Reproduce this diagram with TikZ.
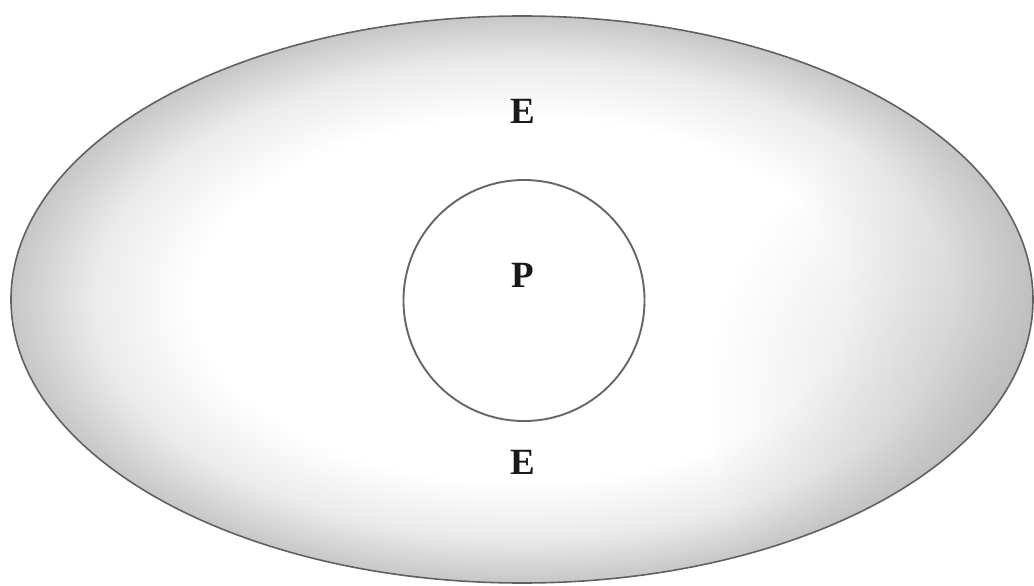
\documentclass[tikz,border=0pt]{standalone}
\usepackage{fontspec}
\setmainfont{Liberation Serif}
\usetikzlibrary{fadings}
\pgfdeclareradialshading{ringshade}{\pgfpoint{0bp}{0bp}}{color(0bp)=(white); color(16bp)=(white); color(21bp)=(black!8); color(25bp)=(black!22); color(50bp)=(black!22)}
\tikzfading[name=softspot, inner color=transparent!50, outer color=transparent!100]
\tikzset{
  lbl/.style={inner sep=0pt, font=\bfseries\fontsize{37}{40}\selectfont, text=black!90},
  rim/.style={draw=black!62, line width=1.6pt},
}
\begin{document}
\begin{tikzpicture}[x=1pt,y=-1pt]
\useasboundingbox (0,0) rectangle (1034,586);
\fill[white] (0,0) rectangle (1034,586);
% outer ellipse with grey rim shading
\shade[shading=ringshade] (522,299.5) ellipse [x radius=511, y radius=283.5];
\begin{scope}
  \clip (522,299.5) ellipse [x radius=511, y radius=283.5];
  \fill[black!30, path fading=softspot] (1010,400) ellipse [x radius=300, y radius=300];
\end{scope}
\draw[rim] (522,299.5) ellipse [x radius=511, y radius=283.5];
% inner circle
\node[circle, draw=black!60, line width=1.9pt, fill=white, minimum size=241pt, inner sep=0pt] (inner) at (524,300.5) {};
% labels
\node[lbl] (e1) at (523,111) {E};
\node[lbl] (p) at (523,275.5) {P};
\node[lbl] (e2) at (523,462) {E};
\end{tikzpicture}
\end{document}
